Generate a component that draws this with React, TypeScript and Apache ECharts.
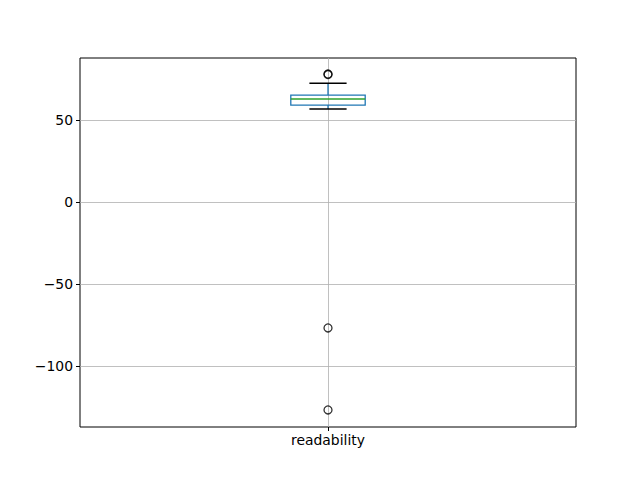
import React, { useEffect, useRef } from "react";
import * as echarts from "echarts";

const categories = ["readability"];
// [lowerWhisker, Q1, median, Q3, upperWhisker]
const boxStats = [[56.7, 59.1, 62.8, 65.2, 72.4]];
const outliers = [78.0, 77.7, -76.8, -126.8];
const yTicks = [-100, -50, 0, 50];

export default function App() {
  const ref = useRef<HTMLDivElement>(null);
  useEffect(() => {
    if (!ref.current) return;
    const chart = echarts.init(ref.current, undefined, { renderer: "svg" });
    const fmt = (v: number) => String(v).replace("-", "\u2212");
    const font = "DejaVu Sans";
    chart.setOption({
      animation: false,
      grid: {
        left: 80,
        top: 58,
        right: 64,
        bottom: 53,
        show: true,
        borderColor: "#000",
        borderWidth: 1,
        backgroundColor: "transparent",
      },
      xAxis: {
        type: "value",
        min: 0.5,
        max: 1.5,
        axisLine: { show: false, onZero: false },
        axisTick: { show: true, length: 4, lineStyle: { color: "#000" }, customValues: [1] },
        axisLabel: {
          customValues: [1],
          formatter: (v: number) => (Math.abs(v - 1) < 1e-9 ? categories[0] : ""),
          color: "#000",
          fontSize: 13.9,
          fontFamily: font,
          margin: 6,
        },
        splitLine: { show: true, lineStyle: { color: "#b0b0b0", width: 0.8 } },
      },
      yAxis: {
        type: "value",
        min: -137.2,
        max: 87.8,
        axisLine: { show: false, onZero: false },
        axisTick: { show: true, length: 4, lineStyle: { color: "#000" }, customValues: yTicks },
        axisLabel: {
          customValues: yTicks,
          formatter: fmt,
          color: "#000",
          fontSize: 13.9,
          fontFamily: font,
          margin: 7,
        },
        splitLine: { show: true, lineStyle: { color: "#b0b0b0", width: 0.8 } },
      },
      series: [
        {
          type: "custom",
          data: boxStats.map((s) => [1, ...s]),
          encode: { x: 0, y: [1, 2, 3, 4, 5] },
          renderItem: (params: any, api: any) => {
            const x = api.value(0);
            const lw = api.value(1), q1 = api.value(2), med = api.value(3), q3 = api.value(4), hw = api.value(5);
            const bh = 0.075, ch = 0.0375;
            const p = (xx: number, yy: number) => api.coord([xx, yy]);
            const blue = "#1f77b4";
            const lineW = 1.3;
            const l1 = p(x - bh, q3), r1 = p(x + bh, q1);
            return {
              type: "group",
              children: [
                { type: "line", shape: { x1: p(x, q1)[0], y1: p(x, q1)[1], x2: p(x, lw)[0], y2: p(x, lw)[1] }, style: { stroke: blue, lineWidth: lineW } },
                { type: "line", shape: { x1: p(x, q3)[0], y1: p(x, q3)[1], x2: p(x, hw)[0], y2: p(x, hw)[1] }, style: { stroke: blue, lineWidth: lineW } },
                { type: "line", shape: { x1: p(x - ch, lw)[0], y1: p(x, lw)[1], x2: p(x + ch, lw)[0], y2: p(x, lw)[1] }, style: { stroke: "#000", lineWidth: lineW } },
                { type: "line", shape: { x1: p(x - ch, hw)[0], y1: p(x, hw)[1], x2: p(x + ch, hw)[0], y2: p(x, hw)[1] }, style: { stroke: "#000", lineWidth: lineW } },
                { type: "rect", shape: { x: l1[0], y: l1[1], width: r1[0] - l1[0], height: r1[1] - l1[1] }, style: { fill: "none", stroke: blue, lineWidth: lineW } },
                { type: "line", shape: { x1: p(x - bh, med)[0], y1: p(x, med)[1], x2: p(x + bh, med)[0], y2: p(x, med)[1] }, style: { stroke: "#2ca02c", lineWidth: lineW } },
              ],
            };
          },
          z: 3,
        },
        {
          type: "scatter",
          data: outliers.map((v) => [1, v]),
          symbol: "circle",
          symbolSize: 8,
          itemStyle: { color: "none", borderColor: "#000", borderWidth: 1.3 },
          z: 4,
        },
      ],
    });
    return () => chart.dispose();
  }, []);
  return <div ref={ref} style={{ width: 640, height: 480, marginLeft: -8, marginTop: -8 }} />;
}
